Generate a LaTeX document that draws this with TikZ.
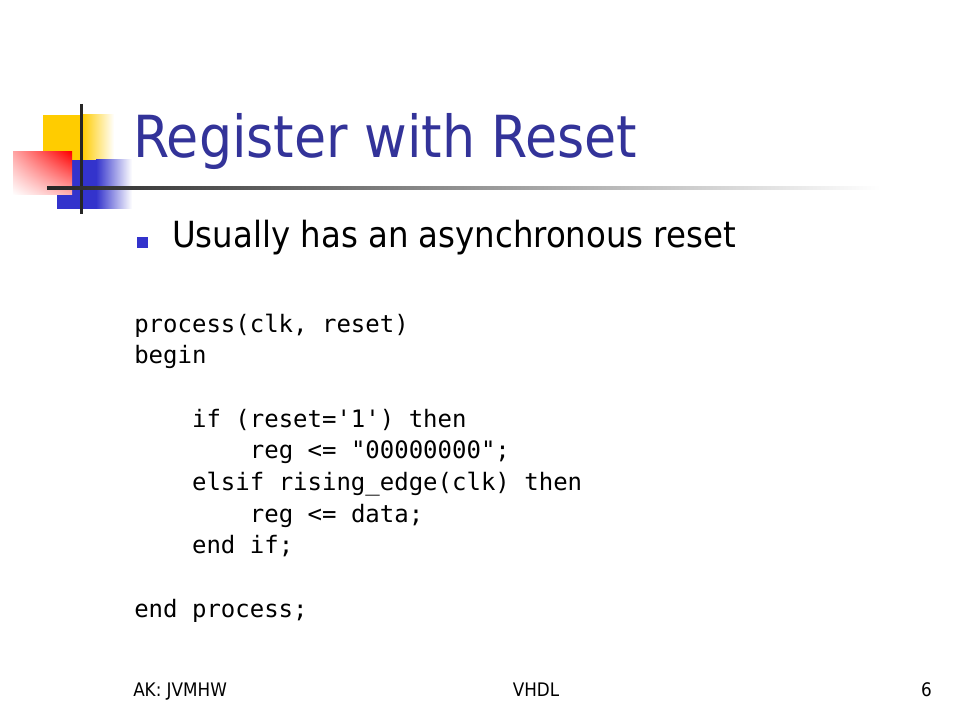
\documentclass[tikz,border=0pt]{standalone}
\usepackage{fontspec}
\setmainfont{DejaVu Sans Condensed}
\setmonofont{DejaVu Sans Mono}
\usetikzlibrary{shadings}
\definecolor{titleblue}{RGB}{51,51,153}
\definecolor{logoblue}{RGB}{51,51,204}
\definecolor{logoyellow}{RGB}{255,204,0}
\begin{document}
\begin{tikzpicture}[x=0.75pt, y=-0.75pt,
		txt/.style={anchor=base west, inner sep=0pt},
		code/.style={txt, font=\ttfamily\fontsize{18}{18}\selectfont},
		foot/.style={anchor=base, inner sep=0pt, font=\fontsize{14}{14}\selectfont}]
	\useasboundingbox[fill=white] (0,0) rectangle (960,720);
	% logo
	\fill[logoyellow] (43,115) rectangle (82,160);
	\shade[left color=logoyellow, right color=white] (82,115) rectangle (114,160);
	\fill[logoblue] (57,160) rectangle (96,209);
	\shade[left color=logoblue, right color=white] (96,160) rectangle (132,209);
	\shade[upper left=red!35, upper right=red, lower left=white, lower right=red!30]
		(13,152) rectangle (72,195);
	\draw[black!85, line width=2.25pt] (81,104) -- (81,214);
	\shade[left color=black!85, right color=white] (47,186.5) rectangle (880,189.5);
	% title and bullet
	\node[txt, text=titleblue, font=\fontsize{43.5}{44}\selectfont] (title) at (133,158) {Register with Reset};
	\node[txt, font=\fontsize{27}{27}\selectfont] (point) at (172,248) {Usually has an asynchronous reset};
	\node[fill=logoblue, minimum size=8.25pt, inner sep=0pt] (dot) at (142.5,242.5) {};
	% code, one line per node
	\foreach \k/\n/\l in {0/0/{process(clk, reset)}, 1/0/begin,
			3/1/{if (reset='1') then}, 4/2/{reg <= "00000000";},
			5/1/{elsif rising\_edge(clk) then}, 6/2/{reg <= data;},
			7/1/{end if;}, 9/0/{end process;}}
		{
			\node[code] (line\k) at (134+57.8*\n, 332+31.7*\k) {\l};
		}
	% footer
	\node[foot, anchor=base west] (author) at (133,696) {AK: JVMHW};
	\node[foot] (topic) at (536,696) {VHDL};
	\node[foot, anchor=base east] (page) at (932,696) {6};
\end{tikzpicture}
\end{document}
